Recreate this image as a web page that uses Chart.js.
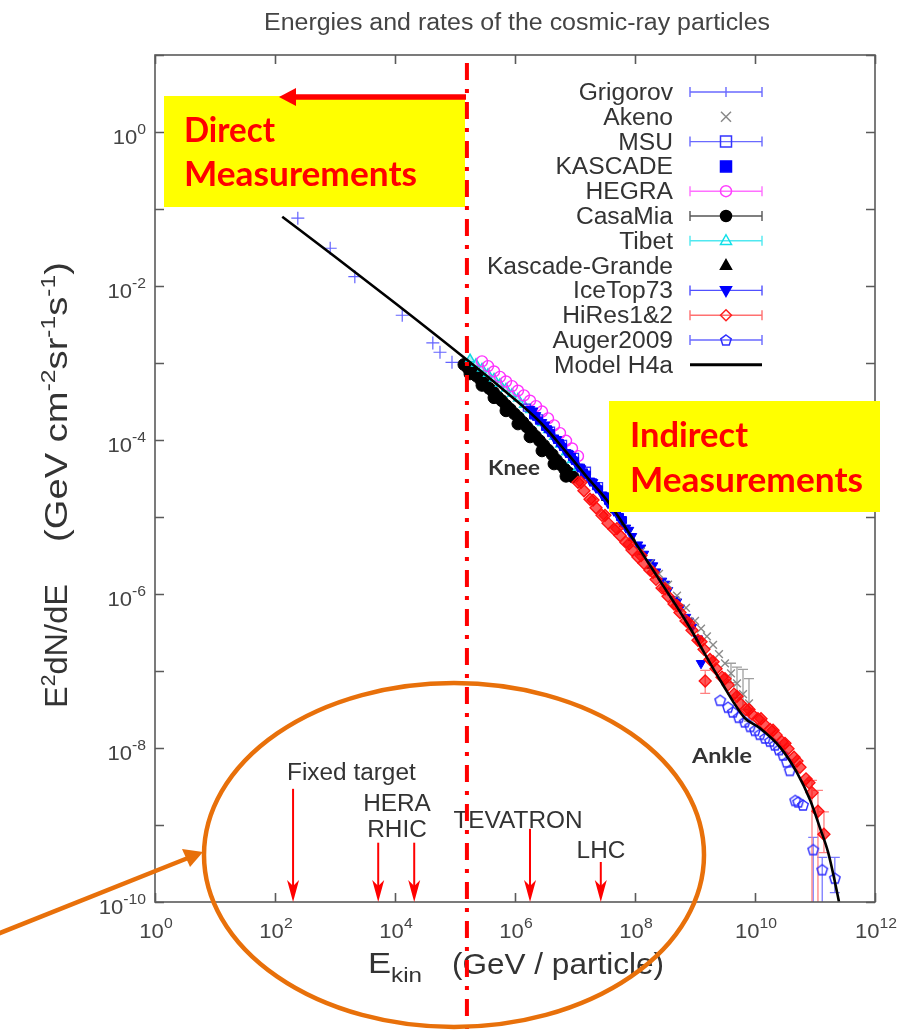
<!DOCTYPE html>
<html><head><meta charset="utf-8">
<script src="https://cdn.jsdelivr.net/npm/chart.js@4.4.1/dist/chart.umd.min.js"></script>
<style>html,body{margin:0;padding:0;background:#fff;}canvas{display:block;}</style>
</head><body>
<canvas id="chart" width="920" height="1030"></canvas>
<script>
// ---------------- data ----------------
const chartTitle = 'Energies and rates of the cosmic-ray particles';
const xTickValues = [1e0, 1e2, 1e4, 1e6, 1e8, 1e10, 1e12];
const xTickExps   = ['0', '2', '4', '6', '8', '10', '12'];
const yTickValues = [1e-10, 1e-8, 1e-6, 1e-4, 1e-2, 1e0];
const yTickExps   = ['-10', '-8', '-6', '-4', '-2', '0'];

const grigorovE = [2.40e2, 8.32e2, 2.14e3, 1.32e4, 4.27e4, 5.62e4, 8.91e4, 1.58e5];
const grigorovF = [7.59e-2, 3.09e-2, 1.32e-2, 4.17e-3, 1.82e-3, 1.38e-3, 1.02e-3, 8.32e-4];

const akenoE = [1.26e8, 1.78e8, 2.51e8, 3.55e8, 5.01e8, 7.08e8, 1.00e9, 1.26e9, 1.58e9, 2.00e9, 2.51e9, 3.16e9, 3.98e9, 5.01e9, 6.31e9, 7.94e9];
const akenoF = [3.55e-6, 2.51e-6, 1.82e-6, 1.32e-6, 9.55e-7, 6.61e-7, 4.47e-7, 3.55e-7, 2.82e-7, 2.19e-7, 1.66e-7, 1.26e-7, 9.33e-8, 6.92e-8, 5.01e-8, 3.80e-8];

const msuE = [1.58e6, 2.51e6, 3.98e6, 6.31e6, 1.00e7, 1.58e7, 2.51e7];
const msuF = [2.63e-4, 1.91e-4, 1.32e-4, 8.91e-5, 6.03e-5, 3.98e-5, 2.51e-5];

const kascadeE = [2.00e6, 2.24e6, 2.51e6, 3.16e6, 3.55e6, 3.98e6, 5.01e6, 5.62e6, 6.31e6, 7.94e6, 8.91e6, 1.00e7, 1.26e7, 1.41e7, 1.58e7, 2.00e7, 2.24e7, 2.51e7, 3.16e7, 3.55e7, 3.98e7, 5.01e7, 5.62e7, 6.31e7];
const kascadeF = [2.09e-4, 2.00e-4, 1.78e-4, 1.48e-4, 1.38e-4, 1.23e-4, 1.00e-4, 9.12e-5, 8.13e-5, 6.61e-5, 6.03e-5, 5.37e-5, 4.37e-5, 3.80e-5, 3.55e-5, 2.82e-5, 2.51e-5, 2.29e-5, 1.86e-5, 1.62e-5, 1.48e-5, 1.17e-5, 1.00e-5, 9.12e-6];

const hegraE = [2.82e5, 3.55e5, 4.47e5, 5.62e5, 7.08e5, 8.91e5, 1.12e6, 1.41e6, 1.78e6, 2.24e6, 2.82e6, 3.55e6, 4.47e6, 5.62e6, 7.08e6, 8.91e6, 1.12e7];
const hegraF = [1.05e-3, 9.12e-4, 7.76e-4, 6.61e-4, 5.75e-4, 5.01e-4, 4.37e-4, 3.80e-4, 3.24e-4, 2.75e-4, 2.34e-4, 1.91e-4, 1.55e-4, 1.23e-4, 9.77e-5, 7.76e-5, 6.17e-5];

const casaMiaE = [1.41e5, 1.66e5, 1.78e5, 1.95e5, 2.29e5, 2.69e5, 2.82e5, 3.16e5, 3.72e5, 4.37e5, 4.47e5, 5.13e5, 6.03e5, 7.08e5, 7.08e5, 8.32e5, 9.77e5, 1.12e6, 1.15e6, 1.35e6, 1.58e6, 1.78e6, 1.86e6, 2.19e6, 2.57e6, 2.82e6, 3.02e6, 3.55e6, 4.17e6, 4.47e6, 4.90e6, 5.75e6, 6.76e6, 7.08e6, 7.94e6, 9.33e6];
const casaMiaF = [9.55e-4, 8.51e-4, 7.24e-4, 7.59e-4, 6.76e-4, 6.03e-4, 5.13e-4, 5.37e-4, 4.68e-4, 4.17e-4, 3.55e-4, 3.63e-4, 3.24e-4, 2.82e-4, 2.40e-4, 2.51e-4, 2.19e-4, 1.62e-4, 1.95e-4, 1.70e-4, 1.48e-4, 1.10e-4, 1.29e-4, 1.12e-4, 9.77e-5, 7.24e-5, 8.51e-5, 7.41e-5, 6.46e-5, 4.90e-5, 5.50e-5, 4.79e-5, 4.17e-5, 3.39e-5, 3.72e-5, 3.31e-5];

const tibetE = [1.78e5, 2.24e5, 2.82e5, 3.55e5, 4.47e5, 5.62e5, 7.08e5, 8.91e5, 1.12e6, 1.41e6, 1.78e6, 2.24e6, 2.82e6, 3.55e6, 4.47e6, 5.62e6, 7.08e6, 8.91e6, 1.12e7];
const tibetF = [1.12e-3, 9.77e-4, 8.51e-4, 7.24e-4, 6.31e-4, 5.37e-4, 4.68e-4, 3.98e-4, 3.47e-4, 2.88e-4, 2.45e-4, 2.04e-4, 1.66e-4, 1.35e-4, 1.10e-4, 8.71e-5, 6.92e-5, 5.50e-5, 4.37e-5];

const kascadeGrandeE = [1.12e7, 1.58e7, 2.24e7, 3.16e7, 4.47e7, 6.31e7, 8.91e7, 1.26e8, 1.78e8];
const kascadeGrandeF = [4.79e-5, 3.47e-5, 2.51e-5, 1.74e-5, 1.20e-5, 7.94e-6, 5.25e-6, 3.47e-6, 2.29e-6];

const iceTopE = [1.78e6, 2.00e6, 2.24e6, 2.82e6, 3.16e6, 3.55e6, 4.47e6, 5.01e6, 5.62e6, 7.08e6, 7.94e6, 8.91e6, 1.12e7, 1.26e7, 1.41e7, 1.78e7, 2.00e7, 2.24e7, 2.82e7, 3.16e7, 3.55e7, 4.47e7, 5.01e7, 5.62e7, 7.08e7, 7.94e7, 8.91e7, 1.12e8, 1.26e8, 1.41e8, 1.78e8, 2.00e8, 2.24e8, 2.82e8, 3.16e8, 3.55e8, 4.47e8, 5.01e8, 5.62e8, 7.08e8, 7.94e8, 8.91e8, 1.12e9, 1.26e9];
const iceTopF = [2.51e-4, 2.40e-4, 2.09e-4, 1.70e-4, 1.58e-4, 1.35e-4, 1.07e-4, 1.02e-4, 8.71e-5, 6.92e-5, 6.61e-5, 5.62e-5, 4.47e-5, 4.27e-5, 3.63e-5, 2.95e-5, 2.82e-5, 2.40e-5, 1.95e-5, 1.82e-5, 1.51e-5, 1.20e-5, 1.12e-5, 9.33e-6, 7.24e-6, 6.76e-6, 5.62e-6, 4.37e-6, 3.98e-6, 3.31e-6, 2.57e-6, 2.34e-6, 1.95e-6, 1.48e-6, 1.35e-6, 1.12e-6, 8.51e-7, 7.94e-7, 6.61e-7, 5.01e-7, 4.47e-7, 3.72e-7, 2.63e-7, 1.26e-7];

const hiresE = [1.12e7, 1.26e7, 1.41e7, 1.78e7, 2.00e7, 2.24e7, 2.82e7, 3.16e7, 3.55e7, 4.47e7, 5.01e7, 5.62e7, 7.08e7, 7.94e7, 8.91e7, 1.12e8, 1.26e8, 1.41e8, 1.78e8, 2.00e8, 2.24e8, 2.82e8, 3.16e8, 3.55e8, 4.47e8, 5.01e8, 5.62e8, 7.08e8, 7.94e8, 8.91e8, 1.12e9, 1.26e9, 1.41e9, 1.48e9, 1.78e9, 2.00e9, 2.24e9, 2.82e9, 3.16e9, 3.55e9, 4.47e9, 5.01e9, 5.62e9, 7.08e9, 7.94e9, 8.91e9, 1.12e10, 1.26e10, 1.41e10, 1.78e10, 2.00e10, 2.24e10, 2.82e10, 3.16e10, 3.55e10, 4.47e10, 5.01e10, 5.62e10, 7.08e10, 7.94e10, 8.91e10, 1.12e11, 1.41e11];
const hiresF = [2.82e-5, 2.82e-5, 2.19e-5, 1.70e-5, 1.66e-5, 1.32e-5, 1.05e-5, 1.05e-5, 8.32e-6, 6.92e-6, 7.08e-6, 5.75e-6, 4.68e-6, 4.47e-6, 3.72e-6, 3.02e-6, 3.16e-6, 2.51e-6, 2.04e-6, 1.91e-6, 1.55e-6, 1.20e-6, 1.17e-6, 9.33e-7, 7.41e-7, 7.08e-7, 5.75e-7, 4.47e-7, 4.17e-7, 3.39e-7, 2.51e-7, 2.40e-7, 1.91e-7, 7.41e-8, 1.41e-7, 1.32e-7, 1.07e-7, 8.32e-8, 7.94e-8, 6.61e-8, 5.01e-8, 4.68e-8, 3.80e-8, 3.16e-8, 3.16e-8, 2.75e-8, 2.40e-8, 2.40e-8, 2.04e-8, 1.74e-8, 1.70e-8, 1.48e-8, 1.20e-8, 1.15e-8, 9.77e-9, 7.59e-9, 6.76e-9, 5.62e-9, 3.98e-9, 3.55e-9, 2.63e-9, 1.51e-9, 7.59e-10];

const augerE = [2.63e9, 3.55e9, 4.27e9, 5.37e9, 6.76e9, 8.32e9, 1.00e10, 1.20e10, 1.48e10, 1.78e10, 2.14e10, 2.51e10, 2.95e10, 3.39e10, 3.80e10, 4.68e10, 5.25e10, 6.31e10, 9.33e10, 1.32e11, 2.14e11];
const augerF = [4.17e-8, 3.39e-8, 2.95e-8, 2.51e-8, 2.19e-8, 1.91e-8, 1.70e-8, 1.51e-8, 1.35e-8, 1.23e-8, 1.10e-8, 9.55e-9, 8.13e-9, 6.61e-9, 5.13e-9, 2.09e-9, 2.00e-9, 1.82e-9, 4.79e-10, 2.63e-10, 2.04e-10];

const modelE = [1.32e2, 1.00e3, 1.00e4, 1.58e5, 7.41e5, 2.63e6, 7.41e6, 1.58e7, 3.39e7, 7.41e7, 2.00e8, 7.41e8, 2.63e9, 6.76e9, 1.20e10, 2.63e10, 5.01e10, 8.32e10, 1.20e11, 1.66e11, 2.34e11, 2.51e11];
const modelF = [7.94e-2, 2.40e-2, 6.03e-3, 1.10e-3, 4.07e-4, 1.70e-4, 6.76e-5, 3.31e-5, 1.66e-5, 6.76e-6, 2.04e-6, 4.17e-7, 7.59e-8, 2.45e-8, 1.82e-8, 1.02e-8, 4.79e-9, 2.09e-9, 9.33e-10, 4.37e-10, 1.32e-10, 1.00e-10];

// visible error bars (energy, upper, lower)
const hiresErrE  = [1.48e9, 8.91e10, 1.12e11, 1.41e11];
const hiresErrHi = [1.02e-7, 3.80e-9, 2.82e-9, 1.48e-9];
const hiresErrLo = [5.13e-8, 5.0e-11, 5.0e-11, 4.37e-10];
const akenoErrE  = [3.98e9, 5.01e9, 6.31e9, 7.94e9];
const akenoErrHi = [1.26e-7, 1.12e-7, 1.05e-7, 7.94e-8];
const akenoErrLo = [7.08e-8, 4.47e-8, 3.16e-8, 2.24e-8];
const augerErrE  = [9.33e10, 1.32e11, 2.14e11];
const augerErrHi = [6.92e-10, 3.80e-10, 3.80e-10];
const augerErrLo = [5.0e-11, 5.0e-11, 1.32e-10];

// accelerator energies (arrows) and the direct/indirect boundary
const accelNames  = ['Fixed target', 'HERA', 'RHIC', 'TEVATRON', 'LHC'];
const accelE      = [2.0e2, 5.25e3, 2.09e4, 1.78e6, 2.69e7];
const accelTopF   = [2.95e-9, 5.89e-10, 5.89e-10, 8.91e-10, 3.31e-10];
const boundaryE   = 1.58e5;

// ---------------- helpers ----------------
const FAM = '"Liberation Sans", Arial, sans-serif';
function pts(E, F) { return E.map((e, i) => ({ x: e, y: F[i] })); }

function pentagonImg(color, r, lw) {
  const s = Math.ceil(2 * r + 2 * lw + 2);
  const c = document.createElement('canvas'); c.width = s; c.height = s;
  const g = c.getContext('2d'); g.strokeStyle = color; g.lineWidth = lw; g.beginPath();
  for (let k = 0; k < 5; k++) {
    const a = -Math.PI / 2 + k * 2 * Math.PI / 5;
    const px = s / 2 + r * Math.cos(a), py = s / 2 + 0.5 + r * Math.sin(a);
    k ? g.lineTo(px, py) : g.moveTo(px, py);
  }
  g.closePath(); g.stroke(); return c;
}

function textRun(ctx, segs, x, y, o) {
  const wt = o.weight || 'normal', fam = o.family || FAM;
  let w = 0; const ws = [];
  for (const s of segs) { ctx.font = `${wt} ${s[1]}px ${fam}`; const m = ctx.measureText(s[0]).width; ws.push(m); w += m; }
  const k = o.width ? o.width / w : (o.sx || 1);
  let start = o.align === 'center' ? -w / 2 : o.align === 'right' ? -w : 0;
  ctx.save(); ctx.translate(x, y); if (o.rot) ctx.rotate(o.rot); ctx.scale(k, 1);
  ctx.fillStyle = o.color || '#333'; ctx.textAlign = 'left'; ctx.textBaseline = 'alphabetic';
  segs.forEach((s, i) => { ctx.font = `${wt} ${s[1]}px ${fam}`; ctx.fillText(s[0], start, s[2] || 0); start += ws[i]; });
  ctx.restore();
}

function marker(ctx, kind, x, y, r, stroke, fill, lw) {
  ctx.save(); ctx.lineWidth = lw; ctx.strokeStyle = stroke; ctx.fillStyle = fill || 'rgba(0,0,0,0)';
  ctx.beginPath();
  if (kind === 'plus') { ctx.moveTo(x - r, y); ctx.lineTo(x + r, y); ctx.moveTo(x, y - r); ctx.lineTo(x, y + r); }
  else if (kind === 'x') { ctx.moveTo(x - r, y - r); ctx.lineTo(x + r, y + r); ctx.moveTo(x + r, y - r); ctx.lineTo(x - r, y + r); }
  else if (kind === 'square') { ctx.rect(x - r, y - r, 2 * r, 2 * r); }
  else if (kind === 'circle') { ctx.arc(x, y, r, 0, Math.PI * 2); }
  else if (kind === 'tri') { ctx.moveTo(x, y - r * 1.1); ctx.lineTo(x + r, y + r * 0.65); ctx.lineTo(x - r, y + r * 0.65); ctx.closePath(); }
  else if (kind === 'dtri') { ctx.moveTo(x, y + r * 1.1); ctx.lineTo(x + r, y - r * 0.65); ctx.lineTo(x - r, y - r * 0.65); ctx.closePath(); }
  else if (kind === 'diamond') { ctx.moveTo(x, y - r); ctx.lineTo(x + r, y); ctx.lineTo(x, y + r); ctx.lineTo(x - r, y); ctx.closePath(); }
  else if (kind === 'pent') { for (let k = 0; k < 5; k++) { const a = -Math.PI / 2 + k * 2 * Math.PI / 5; const px = x + r * Math.cos(a), py = y + 0.5 + r * Math.sin(a); k ? ctx.lineTo(px, py) : ctx.moveTo(px, py); } ctx.closePath(); }
  if (fill) ctx.fill();
  ctx.stroke(); ctx.restore();
}

// ---------------- datasets ----------------
const BLUE_BAR = '#6a6aff';
const datasets = [
  { label: 'Model H4a', data: pts(modelE, modelF), showLine: true, borderColor: '#000', borderWidth: 2.6, pointRadius: 0, cubicInterpolationMode: 'monotone', order: 0,
    lg: { kind: 'line' } },
  { label: 'HiRes1&2', data: pts(hiresE, hiresF), pointStyle: 'rectRot', pointRadius: 6, borderColor: '#ff1010', backgroundColor: 'rgba(255,0,0,0.65)', borderWidth: 1.3, order: 1,
    lg: { kind: 'diamond', stroke: '#ff2020', bar: '#ff7070' } },
  { label: 'Auger2009', data: pts(augerE, augerF), pointStyle: pentagonImg('#2a2aff', 5.5, 1.4), pointRadius: 5, order: 2,
    lg: { kind: 'pent', stroke: '#3030ff', bar: BLUE_BAR } },
  { label: 'Akeno', data: pts(akenoE, akenoF), pointStyle: 'crossRot', pointRadius: 5.5, borderColor: '#8a8a8a', borderWidth: 1.4, order: 3,
    lg: { kind: 'x', stroke: '#888' } },
  { label: 'IceTop73', data: pts(iceTopE, iceTopF), pointStyle: 'triangle', rotation: 180, pointRadius: 5.5, borderColor: '#0000ff', backgroundColor: '#0000ff', borderWidth: 1, order: 4,
    lg: { kind: 'dtri', stroke: '#0000ff', fill: '#0000ff', bar: '#5050ff' } },
  { label: 'KASCADE', data: pts(kascadeE, kascadeF), pointStyle: 'rect', pointRadius: 5, borderColor: '#0000ff', backgroundColor: '#0000ff', borderWidth: 1, order: 5,
    lg: { kind: 'square', stroke: '#0000ff', fill: '#0000ff' } },
  { label: 'MSU', data: pts(msuE, msuF), pointStyle: 'rect', pointRadius: 5, borderColor: '#3535ff', backgroundColor: 'rgba(0,0,0,0)', borderWidth: 1.3, order: 6,
    lg: { kind: 'square', stroke: '#3535ff', bar: BLUE_BAR } },
  { label: 'HEGRA', data: pts(hegraE, hegraF), pointStyle: 'circle', pointRadius: 5.5, borderColor: '#ff30ff', backgroundColor: 'rgba(0,0,0,0)', borderWidth: 1.4, order: 7,
    lg: { kind: 'circle', stroke: '#ff40ff', bar: '#ff70ff' } },
  { label: 'Tibet', data: pts(tibetE, tibetF), pointStyle: 'triangle', pointRadius: 5, borderColor: '#10d8e0', backgroundColor: 'rgba(16,216,224,0.35)', borderWidth: 1.5, order: 8,
    lg: { kind: 'tri', stroke: '#10e0e8', bar: '#50e8f0' } },
  { label: 'Kascade-Grande', data: pts(kascadeGrandeE, kascadeGrandeF), pointStyle: 'triangle', pointRadius: 4, borderColor: '#111', backgroundColor: '#111', borderWidth: 1, order: 9,
    lg: { kind: 'tri', stroke: '#000', fill: '#000' } },
  { label: 'CasaMia', data: pts(casaMiaE, casaMiaF), pointStyle: 'circle', pointRadius: 6, borderColor: '#000', backgroundColor: '#000', borderWidth: 1, order: 10,
    lg: { kind: 'circle', stroke: '#000', fill: '#000', bar: '#555' } },
  { label: 'Grigorov', data: pts(grigorovE, grigorovF), pointStyle: 'cross', pointRadius: 6.5, borderColor: 'rgba(70,70,255,0.85)', borderWidth: 1.2, order: 11,
    lg: { kind: 'plus', stroke: '#4a4aff', bar: BLUE_BAR } },
];
const legendOrder = ['Grigorov', 'Akeno', 'MSU', 'KASCADE', 'HEGRA', 'CasaMia', 'Tibet', 'Kascade-Grande', 'IceTop73', 'HiRes1&2', 'Auger2009', 'Model H4a'];
const errorSets = [
  { E: akenoErrE, hi: akenoErrHi, lo: akenoErrLo, color: '#a0a0a0' },
  { E: augerErrE, hi: augerErrHi, lo: augerErrLo, color: '#7a7aff' },
  { E: hiresErrE, hi: hiresErrHi, lo: hiresErrLo, color: '#ff8080' },
];

// ---------------- drawing plugin ----------------
const overlay = {
  id: 'overlay',
  beforeDatasetsDraw(chart) {
    const { ctx, chartArea: a, scales: { x, y } } = chart;
    ctx.save(); ctx.beginPath(); ctx.rect(a.left, a.top, a.right - a.left, a.bottom - a.top); ctx.clip();
    for (const s of errorSets) {
      ctx.strokeStyle = s.color; ctx.lineWidth = 1.3;
      s.E.forEach((e, i) => {
        const px = x.getPixelForValue(e), ph = y.getPixelForValue(s.hi[i]), pl = y.getPixelForValue(s.lo[i]);
        ctx.beginPath(); ctx.moveTo(px, ph); ctx.lineTo(px, pl);
        ctx.moveTo(px - 5, ph); ctx.lineTo(px + 5, ph); ctx.moveTo(px - 5, pl); ctx.lineTo(px + 5, pl); ctx.stroke();
      });
    }
    ctx.restore();
  },
  afterDraw(chart) {
    const { ctx, chartArea: a, scales: { x, y } } = chart;
    // frame + inward ticks
    ctx.save();
    ctx.strokeStyle = '#5a5a5a'; ctx.lineWidth = 1.6;
    ctx.strokeRect(a.left, a.top, a.right - a.left, a.bottom - a.top);
    ctx.beginPath();
    xTickValues.forEach(v => { const px = Math.round(x.getPixelForValue(v)) + 0.5; ctx.moveTo(px, a.bottom); ctx.lineTo(px, a.bottom - 9); ctx.moveTo(px, a.top); ctx.lineTo(px, a.top + 9); });
    for (let v = 1e-10; v <= 10.0001; v *= 10) { const py = Math.round(y.getPixelForValue(v)) + 0.5; ctx.moveTo(a.left, py); ctx.lineTo(a.left + 9, py); ctx.moveTo(a.right, py); ctx.lineTo(a.right - 9, py); }
    ctx.stroke(); ctx.restore();

    // tick labels
    xTickValues.forEach((v, i) => textRun(ctx, [['10', 21, 0], [xTickExps[i], 15, -10]], x.getPixelForValue(v) + 1, 938, { align: 'center', color: '#444', sx: 1.05 }));
    yTickValues.forEach((v, i) => textRun(ctx, [['10', 21, 0], [yTickExps[i], 15, -10]], 146, y.getPixelForValue(v) + 12, { align: 'right', color: '#444', sx: 1.05 }));

    // title and axis titles
    textRun(ctx, [[chartTitle, 23, 0]], 264, 30, { width: 506, color: '#444' });
    textRun(ctx, [['E', 31, 0], ['2', 20, -12], ['dN/dE', 31, 0]], 67, 708, { rot: -Math.PI / 2, width: 124, color: '#333' });
    textRun(ctx, [['(GeV cm', 31, 0], ['-2', 20, -12], ['sr', 31, 0], ['-1', 20, -12], ['s', 31, 0], ['-1', 20, -12], [')', 31, 0]], 67, 542, { rot: -Math.PI / 2, width: 280, color: '#333' });
    textRun(ctx, [['E', 30, 0], ['kin', 21, 9]], 368, 973, { width: 54, color: '#333' });
    textRun(ctx, [['(GeV / particle)', 30, 0]], 452, 974, { width: 212, color: '#333' });

    // legend
    const byLabel = {}; chart.data.datasets.forEach(d => byLabel[d.label] = d);
    legendOrder.forEach((lab, i) => {
      const d = byLabel[lab], lg = d.lg, cy = 92 + i * 24.8;
      textRun(ctx, [[lab, 23, 0]], 673, cy + 8, { align: 'right', color: '#333', sx: 1.07 });
      if (lg.kind === 'line') { ctx.save(); ctx.strokeStyle = '#000'; ctx.lineWidth = 3; ctx.beginPath(); ctx.moveTo(690, cy); ctx.lineTo(762, cy); ctx.stroke(); ctx.restore(); return; }
      if (lg.bar) {
        ctx.save(); ctx.strokeStyle = lg.bar; ctx.lineWidth = 1.4; ctx.beginPath();
        ctx.moveTo(690, cy); ctx.lineTo(762, cy); ctx.moveTo(690, cy - 5); ctx.lineTo(690, cy + 5); ctx.moveTo(762, cy - 5); ctx.lineTo(762, cy + 5);
        if (lg.kind === 'plus') { ctx.moveTo(726, cy - 5); ctx.lineTo(726, cy + 5); }
        ctx.stroke(); ctx.restore();
      }
      if (lg.kind !== 'plus') marker(ctx, lg.kind, 726, cy, lg.kind === 'x' ? 5 : 5.5, lg.stroke, lg.fill, 1.5);
    });

    // Knee / Ankle
    textRun(ctx, [['Knee', 21, 0]], 488, 475, { width: 52, weight: 'bold', family: 'Lato, "Open Sans", sans-serif', color: '#333' });
    textRun(ctx, [['Ankle', 21, 0]], 692, 763, { width: 60, weight: 'bold', family: 'Lato, "Open Sans", sans-serif', color: '#333' });

    // accelerator arrows
    ctx.save(); ctx.strokeStyle = '#ff0000'; ctx.fillStyle = '#ff0000'; ctx.lineWidth = 2;
    accelE.forEach((e, i) => {
      const px = x.getPixelForValue(e), top = y.getPixelForValue(accelTopF[i]), bot = a.bottom;
      ctx.beginPath(); ctx.moveTo(px, top); ctx.lineTo(px, bot - 12); ctx.stroke();
      ctx.beginPath(); ctx.moveTo(px, bot); ctx.lineTo(px - 6, bot - 22); ctx.lineTo(px, bot - 16); ctx.lineTo(px + 6, bot - 22); ctx.closePath(); ctx.fill();
    });
    ctx.restore();
    const accelTxt = { color: '#333', sx: 1.06 };
    textRun(ctx, [[accelNames[0], 23, 0]], 287, 780, accelTxt);
    textRun(ctx, [[accelNames[1], 23, 0]], 397, 811, { ...accelTxt, align: 'center' });
    textRun(ctx, [[accelNames[2], 23, 0]], 397, 837, { ...accelTxt, align: 'center' });
    textRun(ctx, [[accelNames[3], 23, 0]], 518, 828, { ...accelTxt, align: 'center' });
    textRun(ctx, [[accelNames[4], 23, 0]], 601, 858, { ...accelTxt, align: 'center' });

    // yellow boxes
    ctx.save(); ctx.fillStyle = '#ffff00';
    ctx.fillRect(164, 96, 301, 111);
    ctx.fillRect(609, 401, 271, 111);
    ctx.restore();
    const big = { weight: 'bold', family: 'Lato, "Open Sans", sans-serif', color: '#ff0000' };
    textRun(ctx, [['Direct', 34, 0]], 184, 142, { ...big, width: 91 });
    textRun(ctx, [['Measurements', 34, 0]], 184, 186, { ...big, width: 233 });
    textRun(ctx, [['Indirect', 34, 0]], 630, 447, { ...big, width: 118 });
    textRun(ctx, [['Measurements', 34, 0]], 630, 492, { ...big, width: 233 });

    // red horizontal arrow (towards lower energies)
    ctx.save(); ctx.strokeStyle = '#ff0000'; ctx.fillStyle = '#ff0000'; ctx.lineWidth = 5.5;
    ctx.beginPath(); ctx.moveTo(466, 97); ctx.lineTo(292, 97); ctx.stroke();
    ctx.beginPath(); ctx.moveTo(279, 97); ctx.lineTo(296, 88); ctx.lineTo(296, 106); ctx.closePath(); ctx.fill();
    ctx.restore();

    // dash-dot boundary between direct and indirect measurements
    ctx.save(); ctx.strokeStyle = '#ff0000'; ctx.lineWidth = 4; ctx.setLineDash([17, 9, 4, 9]);
    const bx = x.getPixelForValue(boundaryE);
    ctx.beginPath(); ctx.moveTo(bx, 63); ctx.lineTo(bx, 1030); ctx.stroke();
    ctx.restore();

    // orange ellipse and arrow
    ctx.save(); ctx.strokeStyle = '#e8700a'; ctx.fillStyle = '#e8700a'; ctx.lineWidth = 4.5;
    ctx.beginPath(); ctx.ellipse(454, 855, 250, 172, 0, 0, Math.PI * 2); ctx.stroke();
    ctx.beginPath(); ctx.moveTo(-5, 935); ctx.lineTo(188, 858); ctx.stroke();
    ctx.beginPath(); ctx.moveTo(203, 852); ctx.lineTo(190, 867); ctx.lineTo(182, 849); ctx.closePath(); ctx.fill();
    ctx.restore();
  }
};

Chart.defaults.font.family = FAM;
new Chart(document.getElementById('chart').getContext('2d'), {
  type: 'scatter',
  data: { datasets },
  options: {
    responsive: false,
    animation: false,
    devicePixelRatio: 1,
    layout: { padding: { left: 155, right: 45, top: 55, bottom: 128 } },
    scales: {
      x: { type: 'logarithmic', min: 1, max: 1e12, display: false },
      y: { type: 'logarithmic', min: 1e-10, max: 10, display: false },
    },
    plugins: { legend: { display: false }, tooltip: { enabled: false }, title: { display: false } },
  },
  plugins: [overlay],
});
</script>
</body></html>
